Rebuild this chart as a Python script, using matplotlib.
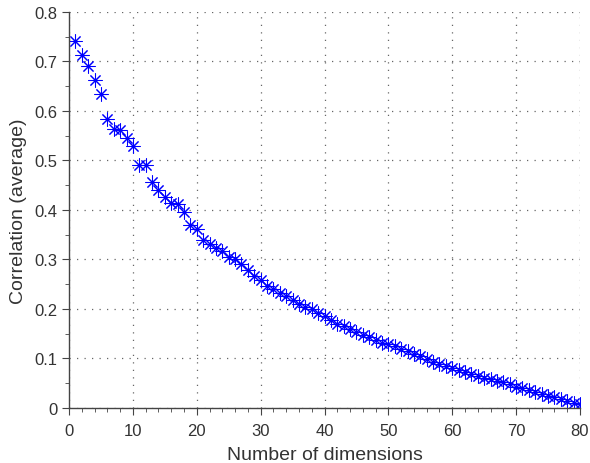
import numpy as np
import matplotlib
matplotlib.use("Agg")
import matplotlib.pyplot as plt
from matplotlib.ticker import MultipleLocator

plt.rcParams['font.family'] = ['Liberation Sans', 'DejaVu Sans']

# Average correlation per number of dimensions
dims = np.arange(1, 81)
corr = [0.741, 0.714, 0.690, 0.663, 0.635, 0.584, 0.564, 0.562, 0.545, 0.530,
        0.491, 0.490, 0.456, 0.441, 0.426, 0.414, 0.411, 0.395, 0.370, 0.362,
        0.340, 0.331, 0.323, 0.317, 0.304, 0.300, 0.291, 0.278, 0.267, 0.258,
        0.247, 0.240, 0.233, 0.226, 0.218, 0.209, 0.203, 0.199, 0.191, 0.185,
        0.177, 0.170, 0.165, 0.160, 0.154, 0.148, 0.143, 0.137, 0.131, 0.128,
        0.124, 0.119, 0.114, 0.109, 0.104, 0.099, 0.093, 0.088, 0.084, 0.080,
        0.077, 0.073, 0.069, 0.065, 0.061, 0.058, 0.055, 0.052, 0.049, 0.043,
        0.039, 0.035, 0.032, 0.028, 0.024, 0.021, 0.018, 0.013, 0.010, 0.007]

text_col = '#333333'

fig = plt.figure(figsize=(5.9, 4.64), dpi=100)
ax = fig.add_axes([0.117, 0.119, 0.866, 0.853])

ax.plot(dims, corr, linestyle='none', marker=(8, 2, 0), markersize=10,
        markeredgewidth=0.75, color='#0000ff', markeredgecolor='#0000ff')

ax.set_xlim(0, 80)
ax.set_ylim(0, 0.8)
ax.xaxis.set_major_locator(MultipleLocator(10))
ax.xaxis.set_minor_locator(MultipleLocator(2))
ax.yaxis.set_major_locator(MultipleLocator(0.1))
ax.yaxis.set_minor_locator(MultipleLocator(0.05))
ax.set_yticks(np.arange(0, 0.81, 0.1))
ax.set_yticklabels(['0', '0.1', '0.2', '0.3', '0.4', '0.5', '0.6', '0.7', '0.8'])

ax.grid(True, which='major', color='#666666', linestyle=(0, (1, 5)), linewidth=0.9)
ax.spines['top'].set_visible(False)
ax.spines['right'].set_visible(False)
for s in ('left', 'bottom'):
    ax.spines[s].set_color('#444444')
    ax.spines[s].set_linewidth(1.0)

ax.tick_params(which='major', direction='out', length=5, colors='#444444',
               labelcolor=text_col, labelsize=12)
ax.tick_params(axis='x', which='major', pad=6)
ax.tick_params(which='minor', direction='out', length=3, colors='#444444')

ax.set_xlabel('Number of dimensions', fontsize=14, color=text_col, labelpad=6)
ax.set_ylabel('Correlation (average)', fontsize=14, color=text_col, labelpad=5)

fig.savefig('out.png', dpi=100)
